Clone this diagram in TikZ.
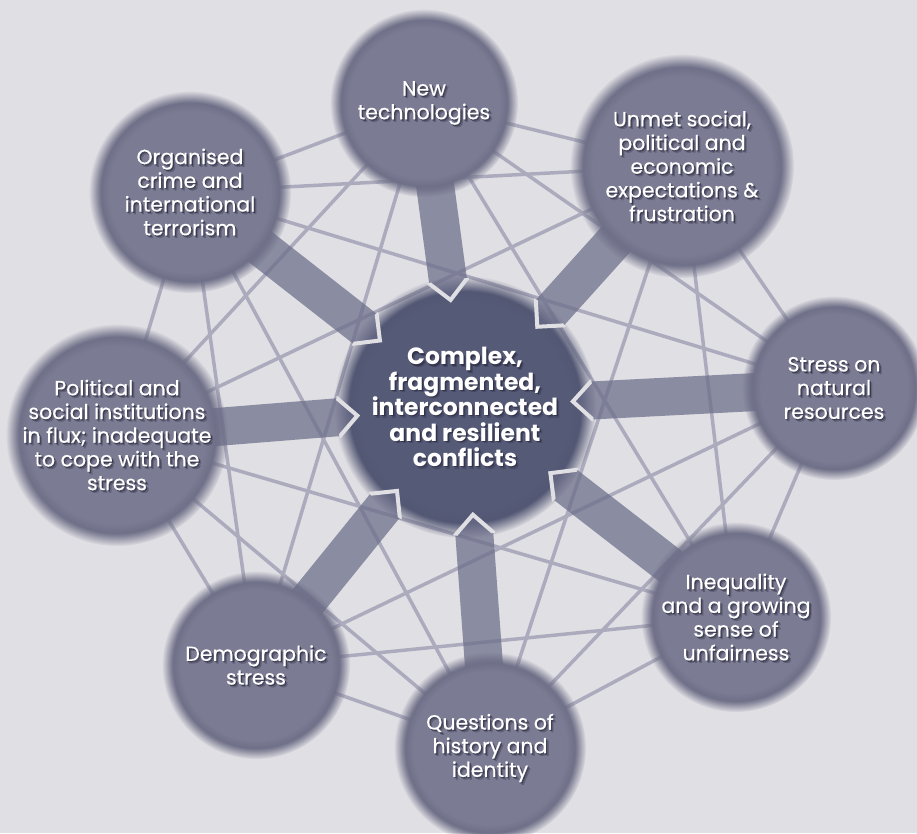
\documentclass[tikz,border=0pt]{standalone}
\usepackage{fontspec}
\setmainfont{Poppins}
\newfontfamily\medfont{Poppins}[FakeBold=0.45]
\usetikzlibrary{calc,fadings}
\definecolor{bgc}{RGB}{224,223,228}
\definecolor{nodec}{RGB}{123,123,147}
\definecolor{nodeedge}{RGB}{106,107,132}
\definecolor{centerc}{RGB}{85,90,119}
\definecolor{centeredge}{RGB}{80,84,112}
\definecolor{linec}{RGB}{172,171,189}
\definecolor{arrowc}{RGB}{106,108,136}
\definecolor{shadowc}{RGB}{35,35,55}
\pgfdeclareradialshading{nodesh}{\pgfpointorigin}{color(0bp)=(nodec); color(20bp)=(nodec); color(23bp)=(nodeedge); color(50bp)=(nodeedge)}
\pgfdeclareradialshading{centersh}{\pgfpointorigin}{color(0bp)=(centerc); color(20bp)=(centerc); color(24bp)=(centeredge); color(50bp)=(centeredge)}
\pgfdeclareradialshading{softedgesh}{\pgfpointorigin}{color(0bp)=(white); color(22bp)=(white); color(25bp)=(black); color(50bp)=(black)}
\pgfdeclarefading{softedge}{\pgfuseshading{softedgesh}}
\tikzset{
  link/.style={draw=linec, line width=3.5pt},
  txt/.style={align=center, inner sep=0pt, font=\medfont\fontsize{20.5}{23.7}\selectfont},
  ctxt/.style={align=center, inner sep=0pt, font=\fontsize{23.5}{25.4}\selectfont\bfseries},
}
\newcommand\softcircle[2]{\shade[shading=nodesh, path fading=softedge] (#1) circle (#2pt);}
\newcommand\shtext[4]{%
  \node[#4, text=shadowc, opacity=0.28] at ($(#2)+(2.6,2.6)$) {#3};
  \node[#4, text=shadowc, opacity=0.55] at ($(#2)+(1.3,1.3)$) {#3};
  \node[#4, text=white] (#1) at (#2) {#3};}
\newcommand\infarrow[1]{%
  \path ($(cc)!108pt!(#1)$) coordinate (tp)
        ($(cc)!127pt!(#1)$) coordinate (sh)
        ($(cc)!150pt!(#1)$) coordinate (shb);
  \fill[arrowc, opacity=.72] (tp) -- ($(sh)!19pt!90:(cc)$) -- ($(#1)!19pt!90:(cc)$)
     -- ($(#1)!19pt!-90:(cc)$) -- ($(sh)!19pt!-90:(cc)$) -- cycle;
  \begin{scope}
    \clip (cc) circle (129pt);
    \draw[bgc, line width=4pt, line join=miter] ($(shb)!19pt!90:(cc)$) -- ($(sh)!19pt!90:(cc)$) -- (tp)
       -- ($(sh)!19pt!-90:(cc)$) -- ($(shb)!19pt!-90:(cc)$);
  \end{scope}}
\begin{document}
\begin{tikzpicture}[x=1pt,y=-1pt]
\fill[bgc] (0,0) rectangle (917,833);
\useasboundingbox (0,0) rectangle (917,833);
\coordinate (cc) at (465,407);
\coordinate (A) at (424,103);
\coordinate (B) at (682,166);
\coordinate (C) at (834,388);
\coordinate (D) at (736,617);
\coordinate (E) at (490,748);
\coordinate (F) at (256,665);
\coordinate (G) at (117,435);
\coordinate (H) at (190,192);
% thin links
\foreach \p/\q in {A/B,A/C,A/D,A/F,A/G,A/H,B/C,B/D,B/E,B/G,B/H,C/D,C/E,C/F,C/H,D/E,D/F,D/G,E/F,E/G,E/H,F/G,F/H,G/H}
  \draw[link] (\p) -- (\q);
% centre
\shade[shading=centersh, path fading=softedge] (cc) circle (131pt);
% arrows
\foreach \s in {A,B,C,D,E,F,G,H} {\infarrow{\s}}
% outer circles
\softcircle{A}{94}
\softcircle{B}{112}
\softcircle{C}{92}
\softcircle{D}{95}
\softcircle{E}{96}
\softcircle{F}{94}
\softcircle{G}{111}
\softcircle{H}{101}
% texts
\shtext{tA}{A}{New\\technologies}{txt}
\shtext{tB}{B}{Unmet social,\\political and\\economic\\expectations \&\\frustration}{txt}
\shtext{tC}{C}{Stress on\\natural\\resources}{txt}
\shtext{tD}{D}{Inequality\\and a growing\\sense of\\unfairness}{txt}
\shtext{tE}{E}{Questions of\\history and\\identity}{txt}
\shtext{tF}{F}{Demographic\\stress}{txt}
\shtext{tG}{G}{Political and\\social institutions\\in flux; inadequate\\to cope with the\\stress}{txt}
\shtext{tH}{H}{Organised\\crime and\\international\\terrorism}{txt}
\shtext{tcc}{cc}{Complex,\\fragmented,\\interconnected\\and resilient\\conflicts}{ctxt}
\end{tikzpicture}
\end{document}
